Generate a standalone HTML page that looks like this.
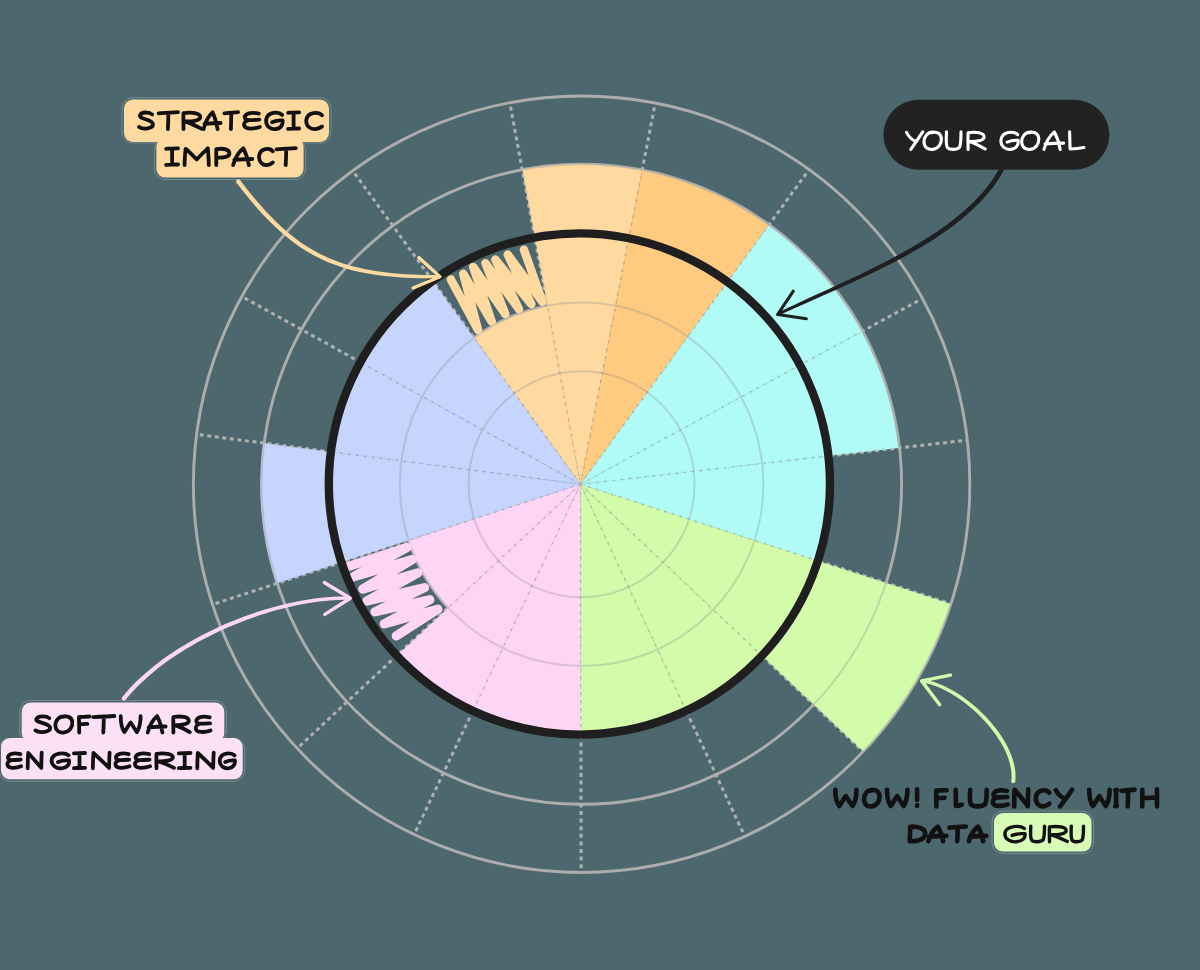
<!DOCTYPE html>
<html><head><meta charset="utf-8"><style>
html,body{margin:0;padding:0;background:#4c686e;}
svg{display:block;}
</style></head><body>
<svg width="1200" height="970" viewBox="0 0 1200 970">
<rect width="1200" height="970" fill="#4c686e"/>
<circle cx="581.6" cy="484.25" r="113" fill="none" stroke="#adadad" stroke-width="2.9"/>
<circle cx="581.6" cy="484.25" r="181.8" fill="none" stroke="#adadad" stroke-width="2.9"/>
<circle cx="581.6" cy="484.25" r="250.6" fill="none" stroke="#adadad" stroke-width="2.9"/>
<circle cx="581.6" cy="484.25" r="320" fill="none" stroke="#adadad" stroke-width="2.9"/>
<circle cx="581.6" cy="484.25" r="388.2" fill="none" stroke="#adadad" stroke-width="2.9"/>
<path d="M580.5 484.2L949.72 603.45 M580.5 484.2L862.41 750.79 M580.5 484.2L744.48 835.85 M580.5 484.2L581.18 872.2 M580.5 484.2L414.07 834.69 M580.5 484.2L296.73 748.82 M580.5 484.2L211.7 604.74 M580.5 484.2L195.73 434.23 M580.5 484.2L241.15 296.09 M580.5 484.2L352.44 170.3 M580.5 484.2L509.79 102.7 M580.5 484.2L655.2 103.46 M580.5 484.2L808.56 170.3 M580.5 484.2L921.48 299.06 M580.5 484.2L966.01 440.28" stroke="#b0b0b0" stroke-width="3" stroke-dasharray="4 3.6" fill="none"/>
<path d="M580.5 484.2L474.11 337.77A181 181 0 0 1 547.52 306.23Z" fill="#fed9a0"/>
<path d="M580.5 484.2L522.18 169.56A320 320 0 0 1 642.11 170.19Z" fill="#fed9a0"/>
<path d="M580.5 484.2L642.11 170.19A320 320 0 0 1 768.59 225.31Z" fill="#fecb80"/>
<path d="M580.5 484.2L768.59 225.31A320 320 0 0 1 861.72 331.51Z" fill="#b1fbf6"/>
<path d="M580.5 484.2L861.72 331.51A320 320 0 0 1 898.44 447.97Z" fill="#b1fbf6"/>
<path d="M580.5 484.2L828.89 455.9A250 250 0 0 1 818.4 561.04Z" fill="#b1fbf6"/>
<path d="M580.5 484.2L950.67 603.76A389 389 0 0 1 863.14 751.48Z" fill="#d2fcaa"/>
<path d="M580.5 484.2L762.14 655.97A250 250 0 0 1 686.15 710.78Z" fill="#d2fcaa"/>
<path d="M580.5 484.2L686.15 710.78A250 250 0 0 1 580.94 734.2Z" fill="#d2fcaa"/>
<path d="M580.5 484.2L580.94 734.2A250 250 0 0 1 473.27 710.03Z" fill="#ffd5f5"/>
<path d="M580.5 484.2L473.27 710.03A250 250 0 0 1 397.66 654.7Z" fill="#ffd5f5"/>
<path d="M580.5 484.2L448.12 607.64A181 181 0 0 1 408.46 540.43Z" fill="#ffd5f5"/>
<path d="M580.5 484.2L276.33 583.62A320 320 0 0 1 263.17 442.99Z" fill="#c5d5fd"/>
<path d="M580.5 484.2L332.58 452A250 250 0 0 1 361.85 363Z" fill="#c5d5fd"/>
<path d="M580.5 484.2L361.85 363A250 250 0 0 1 433.55 281.95Z" fill="#c5d5fd"/>
<clipPath id="cs"><path d="M580.5 484.2L474.11 337.77A181 181 0 0 1 547.52 306.23Z"/><path d="M580.5 484.2L522.18 169.56A320 320 0 0 1 642.11 170.19Z"/><path d="M580.5 484.2L642.11 170.19A320 320 0 0 1 768.59 225.31Z"/><path d="M580.5 484.2L768.59 225.31A320 320 0 0 1 861.72 331.51Z"/><path d="M580.5 484.2L861.72 331.51A320 320 0 0 1 898.44 447.97Z"/><path d="M580.5 484.2L828.89 455.9A250 250 0 0 1 818.4 561.04Z"/><path d="M580.5 484.2L950.67 603.76A389 389 0 0 1 863.14 751.48Z"/><path d="M580.5 484.2L762.14 655.97A250 250 0 0 1 686.15 710.78Z"/><path d="M580.5 484.2L686.15 710.78A250 250 0 0 1 580.94 734.2Z"/><path d="M580.5 484.2L580.94 734.2A250 250 0 0 1 473.27 710.03Z"/><path d="M580.5 484.2L473.27 710.03A250 250 0 0 1 397.66 654.7Z"/><path d="M580.5 484.2L448.12 607.64A181 181 0 0 1 408.46 540.43Z"/><path d="M580.5 484.2L276.33 583.62A320 320 0 0 1 263.17 442.99Z"/><path d="M580.5 484.2L332.58 452A250 250 0 0 1 361.85 363Z"/><path d="M580.5 484.2L361.85 363A250 250 0 0 1 433.55 281.95Z"/></clipPath>
<g clip-path="url(#cs)">
<circle cx="581.6" cy="484.25" r="113" fill="none" stroke="#8a8a8a" stroke-opacity="0.3" stroke-width="2"/>
<circle cx="581.6" cy="484.25" r="181.8" fill="none" stroke="#8a8a8a" stroke-opacity="0.3" stroke-width="2"/>
<circle cx="581.6" cy="484.25" r="250.6" fill="none" stroke="#8a8a8a" stroke-opacity="0.3" stroke-width="2"/>
<circle cx="581.6" cy="484.25" r="320" fill="none" stroke="#8a8a8a" stroke-opacity="0.3" stroke-width="2"/>
<circle cx="581.6" cy="484.25" r="388.2" fill="none" stroke="#8a8a8a" stroke-opacity="0.3" stroke-width="2"/>
<path d="M580.5 484.2L949.72 603.45 M580.5 484.2L862.41 750.79 M580.5 484.2L744.48 835.85 M580.5 484.2L581.18 872.2 M580.5 484.2L414.07 834.69 M580.5 484.2L296.73 748.82 M580.5 484.2L211.7 604.74 M580.5 484.2L195.73 434.23 M580.5 484.2L241.15 296.09 M580.5 484.2L352.44 170.3 M580.5 484.2L509.79 102.7 M580.5 484.2L655.2 103.46 M580.5 484.2L808.56 170.3 M580.5 484.2L921.48 299.06 M580.5 484.2L966.01 440.28" stroke="#7a7a7a" stroke-opacity="0.32" stroke-width="1.8" stroke-dasharray="2.6 5.4" fill="none"/>
</g>
<path d="M450.9 279.4L478.1 330.1L463.3 273.9L491.7 321.5L473.2 267L505.3 314L485.5 263.3L518.9 309.1L495.4 259.6L531.3 304.1L507.8 254.7L542.4 301.7L523.9 249.7" fill="none" stroke="#fed9a0" stroke-width="8.5" stroke-linecap="round" stroke-linejoin="round"/>
<path d="M349.4 566.2L407 547.4L353.4 576.9L412.4 559.5L362.8 589L417.8 572.9L366.8 601.1L424.5 587.7L374.9 611.8L429.8 599.7L384.2 623.9L437.9 609.1L396.3 635.9" fill="none" stroke="#ffd5f5" stroke-width="9.2" stroke-linecap="round" stroke-linejoin="round"/>
<circle cx="579.4" cy="484" r="250.6" fill="none" stroke="#1f1f1f" stroke-width="8.4"/>
<path d="M236.56 182.84L240.94 188.53L245.28 194.02L249.59 199.3L253.86 204.36L258.11 209.23L262.35 213.89L266.57 218.35L270.78 222.62L275 226.71L279.23 230.6L283.47 234.31L287.73 237.85L292.02 241.2L296.34 244.39L300.7 247.4L305.1 250.25L309.56 252.94L314.07 255.47L318.64 257.84L323.29 260.06L328.01 262.14L332.81 264.06L337.7 265.85L342.68 267.5L347.76 269.01L352.94 270.4L358.24 271.66L363.65 272.79L369.18 273.81L374.85 274.72L380.64 275.51L386.59 276.19L392.68 276.78L398.92 277.26L405.33 277.65L411.9 277.95L418.65 278.16L425.58 278.29L432.7 278.33L440 278.3L440 275.1L432.72 275.06L425.64 274.94L418.75 274.75L412.05 274.48L405.53 274.13L399.18 273.69L393 273.16L386.99 272.53L381.12 271.81L375.41 270.98L369.84 270.05L364.4 269.01L359.1 267.86L353.91 266.59L348.85 265.21L343.89 263.69L339.03 262.05L334.27 260.28L329.6 258.38L325.01 256.34L320.5 254.15L316.05 251.82L311.66 249.34L307.33 246.7L303.05 243.9L298.81 240.94L294.6 237.82L290.42 234.52L286.26 231.05L282.11 227.4L277.98 223.56L273.84 219.54L269.7 215.33L265.55 210.92L261.38 206.32L257.19 201.51L252.97 196.49L248.71 191.27L244.4 185.83L240.04 180.16Z" fill="#fed9a0"/><circle cx="238.3" cy="181.5" r="2.2" fill="#fed9a0"/>
<path d="M418.8 257.5L440 276.7L413.1 288" fill="none" stroke="#fed9a0" stroke-width="3.3" stroke-linecap="round" stroke-linejoin="round"/>
<path d="M999.32 168.41L996.35 173.61L993.13 178.64L989.64 183.59L985.89 188.43L981.88 193.18L977.64 197.83L973.18 202.4L968.49 206.87L963.61 211.26L958.53 215.55L953.27 219.77L947.84 223.89L942.26 227.94L936.54 231.91L930.68 235.79L924.71 239.61L918.63 243.34L912.45 247.01L906.19 250.6L899.86 254.12L893.47 257.58L887.03 260.97L880.56 264.3L874.07 267.57L867.56 270.78L861.06 273.93L854.57 277.03L848.11 280.07L841.68 283.06L835.31 286L828.99 288.9L822.75 291.75L816.6 294.55L810.54 297.32L804.6 300.04L798.77 302.73L793.09 305.38L787.54 308L782.16 310.59L776.95 313.15L778.25 315.85L783.48 313.37L788.88 310.86L794.44 308.32L800.15 305.74L805.99 303.13L811.96 300.47L818.05 297.78L824.23 295.04L830.51 292.25L836.86 289.42L843.27 286.54L849.74 283.6L856.25 280.61L862.79 277.56L869.34 274.45L875.9 271.29L882.45 268.05L888.98 264.76L895.48 261.39L901.94 257.95L908.34 254.44L914.68 250.86L920.94 247.19L927.1 243.45L933.16 239.63L939.11 235.72L944.93 231.72L950.61 227.63L956.14 223.46L961.51 219.19L966.7 214.82L971.71 210.35L976.51 205.78L981.1 201.11L985.47 196.33L989.61 191.44L993.49 186.44L997.11 181.32L1000.46 176.09L1003.48 170.79Z" fill="#1f1f1f"/><circle cx="1001.4" cy="169.6" r="2.4" fill="#1f1f1f"/>
<path d="M793.3 291.2L777.6 314.5L806.3 318.8" fill="none" stroke="#1f1f1f" stroke-width="3.1" stroke-linecap="round" stroke-linejoin="round"/>
<path d="M125.56 699.87L129.15 695.53L132.93 691.28L136.91 687.09L141.09 682.95L145.45 678.88L149.99 674.88L154.7 670.94L159.57 667.08L164.59 663.3L169.76 659.59L175.06 655.97L180.49 652.43L186.04 648.98L191.7 645.63L197.46 642.36L203.32 639.19L209.26 636.13L215.28 633.16L221.37 630.31L227.52 627.56L233.72 624.92L239.96 622.4L246.24 619.99L252.55 617.71L258.88 615.55L265.21 613.51L271.55 611.6L277.88 609.83L284.19 608.19L290.48 606.69L296.74 605.32L302.96 604.11L309.14 603.03L315.25 602.11L321.3 601.34L327.27 600.72L333.16 600.26L338.96 599.96L344.67 599.82L350.29 599.85L350.31 596.55L344.65 596.48L338.85 596.57L332.95 596.83L326.97 597.26L320.91 597.84L314.77 598.58L308.57 599.48L302.31 600.52L296.01 601.72L289.67 603.06L283.29 604.54L276.9 606.16L270.49 607.92L264.07 609.82L257.66 611.84L251.25 613.99L244.87 616.27L238.51 618.68L232.19 621.2L225.91 623.84L219.68 626.6L213.51 629.47L207.41 632.44L201.39 635.53L195.45 638.71L189.61 642L183.86 645.39L178.23 648.87L172.72 652.45L167.33 656.11L162.07 659.87L156.96 663.71L152 667.63L147.2 671.63L142.57 675.7L138.11 679.86L133.84 684.08L129.76 688.37L125.89 692.73L122.24 697.13Z" fill="#ffd5f5"/><circle cx="123.9" cy="698.5" r="2.15" fill="#ffd5f5"/>
<path d="M324.3 582.5L350.3 598.2L324.8 614.4" fill="none" stroke="#ffd5f5" stroke-width="3.4" stroke-linecap="round" stroke-linejoin="round"/>
<path d="M1015.24 781.35L1015.48 778.16L1015.49 774.86L1015.27 771.53L1014.83 768.18L1014.18 764.81L1013.32 761.42L1012.27 758.03L1011.04 754.64L1009.64 751.25L1008.06 747.87L1006.33 744.51L1004.44 741.17L1002.42 737.85L1000.25 734.57L997.96 731.32L995.56 728.12L993.03 724.96L990.41 721.86L987.69 718.82L984.88 715.84L981.99 712.94L979.02 710.11L975.99 707.37L972.91 704.72L969.77 702.16L966.59 699.7L963.37 697.36L960.13 695.12L956.87 693L953.59 691.01L950.31 689.15L947.04 687.42L943.77 685.84L940.52 684.41L937.29 683.13L934.1 682.02L930.94 681.07L927.83 680.3L924.77 679.71L921.82 679.32L921.38 682.48L924.23 682.89L927.11 683.48L930.06 684.24L933.06 685.17L936.11 686.26L939.2 687.51L942.33 688.92L945.48 690.48L948.64 692.17L951.82 694.01L954.99 695.97L958.15 698.05L961.3 700.26L964.42 702.57L967.51 704.99L970.56 707.5L973.56 710.11L976.51 712.81L979.39 715.58L982.2 718.43L984.93 721.35L987.57 724.32L990.11 727.36L992.55 730.44L994.88 733.56L997.09 736.72L999.18 739.9L1001.13 743.11L1002.93 746.34L1004.59 749.57L1006.09 752.81L1007.43 756.04L1008.59 759.27L1009.58 762.47L1010.38 765.65L1010.98 768.8L1011.39 771.92L1011.6 774.99L1011.59 778.01L1011.36 781.05Z" fill="#d2fcaa"/><circle cx="1013.3" cy="781.2" r="1.95" fill="#d2fcaa"/>
<path d="M950.5 675.2L921.6 680.9L939.7 704.7" fill="none" stroke="#d2fcaa" stroke-width="3.4" stroke-linecap="round" stroke-linejoin="round"/>
<rect x="122" y="97.6" width="209" height="45.4" rx="11" fill="none" stroke="#ece4d4" stroke-opacity="0.35" stroke-width="0.8"/>
<rect x="154.4" y="139" width="151.2" height="40.6" rx="11" fill="none" stroke="#ece4d4" stroke-opacity="0.35" stroke-width="0.8"/>
<rect x="124" y="99.6" width="205" height="42.4" rx="9" fill="#fed9a0"/>
<rect x="156.4" y="138" width="147.2" height="39.6" rx="9" fill="#fed9a0"/>
<path d="M152.2 114.5C149.5 111.9 141.3 111.5 140.0 115.3C138.6 119.2 152.2 119.2 152.9 123.9C153.6 128.7 143.1 130.0 139.1 126.9M158.6 113.4C165.4 112.9 172.2 112.4 178.1 112.2M168.3 112.8C168.3 117.9 168.2 123.9 167.9 129.1M183.5 129.1C183.5 123.9 183.2 117.9 183.5 113.2C191.7 111.9 200.3 113.2 200.3 117.1C200.3 120.9 190.6 121.8 184.6 121.4C190.6 123.1 197.1 126.5 201.4 128.7M203.6 129.1C205.0 123.1 207.8 116.6 212.6 112.3C214.9 117.1 216.6 123.1 217.6 129.1M204.5 123.8C209.7 123.3 214.9 123.0 220.6 123.0M224.4 113.4C229.2 112.9 234.0 112.4 238.1 112.2M231.2 112.8C231.2 117.9 231.1 123.9 230.9 129.1M258.8 113.6C253.1 112.2 246.4 112.6 244.9 116.2C244.0 118.8 246.4 120.1 249.3 120.1C253.1 120.1 256.0 119.9 259.3 119.6M249.3 120.1C245.4 120.5 243.5 123.1 244.3 125.7C244.9 129.1 253.1 129.5 259.8 126.9M282.1 114.9C278.8 111.5 267.3 111.5 266.2 119.6C265.4 126.5 271.1 129.5 275.4 129.1C280.7 128.7 283.1 124.8 282.6 120.5C278.8 120.1 275.0 120.9 272.1 122.2M288.1 112.8C291.5 112.6 295.8 112.3 299.2 112.3M293.6 112.8L293.6 128.7M288.1 128.9C291.5 128.8 295.8 128.6 299.2 128.5M322.0 115.3C318.8 111.5 307.4 111.5 306.3 120.1C305.6 126.5 311.1 129.5 315.2 129.1C318.4 128.7 320.6 127.8 322.0 126.5" fill="none" stroke="#111" stroke-width="3.8" stroke-linecap="round" stroke-linejoin="round"/>
<path d="M166.1 148.8C169.8 148.6 174.4 148.3 178.1 148.3M172.1 148.8L172.1 164.7M166.1 164.9C169.8 164.8 174.4 164.6 178.1 164.5M184.6 165.1C184.6 159.9 185.1 153.9 185.6 148.8C189.6 152.2 193.7 156.5 196.7 159.5C199.7 156.1 203.8 152.2 207.8 148.3C208.3 153.9 208.8 159.9 208.8 165.1M216.3 165.1C216.3 159.9 216.1 153.9 216.3 149.2C224.0 147.9 229.4 149.6 229.4 153.5C229.4 157.4 221.3 158.2 216.8 157.4M233.2 165.1C234.8 159.1 238.0 152.6 243.3 148.3C245.9 153.1 247.8 159.1 248.9 165.1M234.3 159.8C240.1 159.3 245.9 159.0 252.3 159.0M272.8 151.3C270.0 147.5 260.1 147.5 259.1 156.1C258.5 162.5 263.3 165.5 266.8 165.1C269.6 164.7 271.6 163.8 272.8 162.5M276.6 149.4C283.3 148.9 290.0 148.4 295.8 148.2M286.2 148.8C286.2 153.9 286.0 159.9 285.7 165.1" fill="none" stroke="#111" stroke-width="3.8" stroke-linecap="round" stroke-linejoin="round"/>
<rect x="883.4" y="99.8" width="226" height="69.9" rx="35" fill="#222222"/>
<path d="M906.5 132.4C908.4 136.0 910.8 139.6 915.5 141.3M922.7 131.9C918.9 137.8 914.6 144.1 910.8 149.4M934.1 132.2C927.4 131.5 923.8 136.9 924.0 142.2C924.3 147.6 928.3 149.9 932.6 149.4C938.4 149.0 941.8 143.6 941.3 138.2C940.8 133.7 937.0 131.0 931.2 132.8M946.5 131.9C946.2 137.8 945.8 144.1 947.2 147.2C949.1 150.3 957.2 149.9 959.5 147.2C961.0 144.1 961.0 137.8 961.0 131.9M968.1 149.4C968.1 144.1 967.8 137.8 968.1 132.8C975.9 131.5 984.1 132.8 984.1 136.9C984.1 140.9 974.8 141.8 969.1 141.3C974.8 143.2 981.0 146.8 985.2 149.0M1017.7 134.6C1014.2 131.0 1002.2 131.0 1001.0 139.6C1000.2 146.8 1006.2 149.9 1010.7 149.4C1016.2 149.0 1018.6 144.9 1018.2 140.4C1014.2 140.0 1010.2 140.9 1007.2 142.2M1031.6 132.2C1025.0 131.5 1021.5 136.9 1021.7 142.2C1022.0 147.6 1026.0 149.9 1030.2 149.4C1035.9 149.0 1039.2 143.6 1038.7 138.2C1038.2 133.7 1034.4 131.0 1028.8 132.8M1044.0 149.4C1045.7 143.2 1049.0 136.4 1054.4 131.9C1057.1 136.9 1059.1 143.2 1060.2 149.4M1045.1 143.9C1051.1 143.3 1057.1 143.1 1063.7 143.1M1069.6 131.9C1069.8 137.8 1069.9 144.1 1070.1 149.0C1074.7 149.0 1079.8 148.5 1083.9 147.6" fill="none" stroke="#ffffff" stroke-width="3.1" stroke-linecap="round" stroke-linejoin="round"/>
<rect x="19.7" y="700.6" width="206.6" height="41.7" rx="11" fill="none" stroke="#ece4d4" stroke-opacity="0.35" stroke-width="0.8"/>
<rect x="-1" y="738.3" width="245.7" height="43" rx="11" fill="none" stroke="#ece4d4" stroke-opacity="0.35" stroke-width="0.8"/>
<rect x="21.7" y="702.6" width="202.6" height="39.4" rx="9" fill="#fce1f6"/>
<rect x="1" y="738" width="241.7" height="41.3" rx="9" fill="#fce1f6"/>
<path d="M49.3 718.2C46.5 715.7 37.8 715.3 36.3 719.1C34.9 722.8 49.3 722.8 50.1 727.5C50.8 732.1 39.7 733.3 35.4 730.4M65.3 716.4C58.7 715.7 55.2 720.7 55.4 725.8C55.7 730.8 59.6 732.9 63.8 732.5C69.5 732.1 72.8 727.0 72.3 722.0C71.9 717.8 68.1 715.3 62.4 717.0M89.4 716.5C85.9 716.5 81.7 717.0 79.0 717.0C79.0 722.4 79.2 727.5 79.2 732.5M79.2 724.5C82.4 724.4 85.2 724.1 87.3 723.9M93.2 717.2C100.6 716.7 108.0 716.2 114.4 716.0M103.8 716.5C103.8 721.6 103.6 727.5 103.3 732.5M120.7 716.1C120.7 722.4 121.5 728.3 124.4 732.1C126.5 729.1 128.6 724.9 130.7 722.4C132.7 725.8 134.8 729.1 136.9 732.1C139.4 728.3 140.6 722.4 140.6 716.1M147.7 732.5C149.2 726.6 152.2 720.3 157.1 716.1C159.6 720.7 161.4 726.6 162.4 732.5M148.7 727.3C154.2 726.8 159.6 726.5 165.6 726.5M173.4 732.5C173.4 727.5 173.1 721.6 173.4 717.0C180.8 715.7 188.8 717.0 188.8 720.7C188.8 724.5 179.9 725.4 174.4 724.9C179.9 726.6 185.8 730.0 189.8 732.1M209.7 717.4C204.3 716.0 197.9 716.4 196.6 719.9C195.7 722.4 197.9 723.7 200.6 723.7C204.3 723.7 207.0 723.5 210.1 723.3M200.6 723.7C197.0 724.1 195.2 726.6 195.9 729.1C196.6 732.5 204.3 732.9 210.6 730.4" fill="none" stroke="#111" stroke-width="3.8" stroke-linecap="round" stroke-linejoin="round"/>
<path d="M20.3 754.2C15.3 752.8 9.4 753.2 8.2 756.5C7.3 758.9 9.4 760.1 11.9 760.1C15.3 760.1 17.8 759.9 20.7 759.7M11.9 760.1C8.6 760.5 6.9 762.8 7.6 765.2C8.2 768.3 15.3 768.7 21.1 766.3M27.7 768.3C27.7 762.8 27.9 758.1 28.2 753.0C32.8 758.1 37.0 762.8 41.3 767.9C41.3 762.8 41.4 758.1 41.7 752.6M68.6 755.3C65.1 752.2 52.9 752.2 51.7 759.7C50.9 765.9 57.0 768.7 61.5 768.3C67.1 767.9 69.6 764.4 69.1 760.5C65.1 760.1 61.0 760.8 58.0 762.0M73.9 753.4C77.3 753.2 81.7 753.0 85.1 753.0M79.5 753.4L79.5 767.9M73.9 768.1C77.3 768.0 81.7 767.8 85.1 767.8M92.9 768.3C92.9 762.8 93.1 758.1 93.4 753.0C99.0 758.1 104.0 762.8 109.1 767.9C109.1 762.8 109.3 758.1 109.6 752.6M128.6 754.2C123.5 752.8 117.5 753.2 116.2 756.5C115.3 758.9 117.5 760.1 120.1 760.1C123.5 760.1 126.1 759.9 129.1 759.7M120.1 760.1C116.6 760.5 114.9 762.8 115.6 765.2C116.2 768.3 123.5 768.7 129.5 766.3M149.2 754.2C143.6 752.8 137.2 753.2 135.8 756.5C134.9 758.9 137.2 760.1 139.9 760.1C143.6 760.1 146.4 759.9 149.6 759.7M139.9 760.1C136.2 760.5 134.4 762.8 135.1 765.2C135.8 768.3 143.6 768.7 150.1 766.3M156.5 768.3C156.5 763.6 156.2 758.1 156.5 753.8C164.4 752.6 172.9 753.8 172.9 757.3C172.9 760.8 163.4 761.6 157.6 761.2C163.4 762.8 169.8 765.9 174.0 767.9M178.8 753.4C182.4 753.2 186.9 753.0 190.5 753.0M184.7 753.4L184.7 767.9M178.8 768.1C182.4 768.0 186.9 767.8 190.5 767.8M197.3 768.3C197.3 762.8 197.5 758.1 197.8 753.0C203.3 758.1 208.2 762.8 213.2 767.9C213.2 762.8 213.4 758.1 213.7 752.6M234.5 755.3C231.4 752.2 220.9 752.2 219.8 759.7C219.1 765.9 224.4 768.7 228.3 768.3C233.1 767.9 235.3 764.4 234.9 760.5C231.4 760.1 227.9 760.8 225.2 762.0" fill="none" stroke="#111" stroke-width="3.8" stroke-linecap="round" stroke-linejoin="round"/>
<path d="M835.3 789.7C835.3 796.1 836.2 802.1 839.3 806.0C841.5 803.0 843.7 798.7 845.9 796.1C848.1 799.6 850.3 803.0 852.5 806.0C855.2 802.1 856.5 796.1 856.5 789.7M873.0 790.0C867.0 789.3 863.9 794.4 864.0 799.6C864.3 804.7 867.9 806.8 871.8 806.4C876.9 806.0 879.9 800.8 879.5 795.7C879.0 791.4 875.6 788.9 870.5 790.6M887.0 789.7C887.0 796.1 887.9 802.1 890.8 806.0C893.0 803.0 895.1 798.7 897.2 796.1C899.3 799.6 901.5 803.0 903.6 806.0C906.1 802.1 907.4 796.1 907.4 789.7M917.1 789.3L917.1 800.0M917.1 805.1L917.1 806.0M946.7 790.2C943.1 790.2 938.9 790.6 936.2 790.6C936.2 796.1 936.4 801.3 936.4 806.4M936.4 798.3C939.6 798.1 942.4 797.9 944.6 797.7M955.7 789.7C955.8 795.3 955.9 801.3 955.9 806.0C957.9 806.0 960.0 805.5 961.7 804.7M970.2 789.7C969.8 795.3 969.3 801.3 970.9 804.3C973.1 807.3 982.4 806.8 985.1 804.3C986.7 801.3 986.7 795.3 986.7 789.7M1006.8 791.0C1001.4 789.6 995.0 790.0 993.7 793.6C992.8 796.1 995.0 797.4 997.7 797.4C1001.4 797.4 1004.1 797.3 1007.2 797.0M997.7 797.4C994.1 797.9 992.3 800.4 993.0 803.0C993.7 806.4 1001.4 806.8 1007.7 804.3M1014.2 806.4C1014.2 800.4 1014.3 795.3 1014.6 789.7C1019.3 795.3 1023.6 800.4 1027.8 806.0C1027.8 800.4 1028.0 795.3 1028.3 789.3M1049.2 792.7C1046.5 788.9 1036.8 788.9 1035.9 797.4C1035.3 803.8 1039.9 806.8 1043.4 806.4C1046.1 806.0 1048.0 805.1 1049.2 803.8M1055.8 790.2C1057.7 793.6 1060.1 797.0 1064.9 798.7M1072.1 789.7C1068.3 795.3 1064.0 801.3 1060.1 806.4M1089.2 789.7C1089.2 796.1 1090.0 802.1 1093.0 806.0C1095.2 803.0 1097.3 798.7 1099.4 796.1C1101.5 799.6 1103.7 803.0 1105.8 806.0C1108.3 802.1 1109.6 796.1 1109.6 789.7M1115.3 790.2C1115.8 790.0 1116.4 789.7 1116.9 789.7M1116.1 790.2L1116.1 806.0M1115.3 806.2C1115.8 806.1 1116.4 805.9 1116.9 805.8M1121.5 790.8C1126.1 790.3 1130.7 789.8 1134.6 789.6M1128.1 790.2C1128.1 795.3 1127.9 801.3 1127.7 806.4M1142.3 789.7L1142.3 806.4M1157.0 789.3L1157.0 806.4M1142.3 798.0C1147.4 797.9 1151.4 797.7 1157.0 797.5" fill="none" stroke="#111" stroke-width="4.6" stroke-linecap="round" stroke-linejoin="round"/>
<rect x="992" y="811" width="101.5" height="42.6" rx="11" fill="none" stroke="#ece4d4" stroke-opacity="0.35" stroke-width="0.8"/>
<rect x="994" y="813" width="97.5" height="38.6" rx="9" fill="#d8fcb6"/>
<path d="M910.2 826.7C910.2 831.5 909.9 836.7 909.7 841.2C918.0 841.6 925.3 839.0 925.3 833.8C925.3 828.5 918.9 826.3 910.2 826.7M928.3 841.2C929.8 836.0 932.8 830.4 937.9 826.7C940.4 830.8 942.2 836.0 943.2 841.2M929.3 836.6C934.8 836.1 940.4 835.9 946.4 835.9M949.4 827.6C955.2 827.2 961.0 826.7 965.9 826.5M957.7 827.0C957.7 831.5 957.5 836.7 957.2 841.2M968.9 841.2C970.4 836.0 973.2 830.4 978.1 826.7C980.5 830.8 982.2 836.0 983.2 841.2M969.9 836.6C975.2 836.1 980.5 835.9 986.3 835.9" fill="none" stroke="#111" stroke-width="4.6" stroke-linecap="round" stroke-linejoin="round"/>
<path d="M1024.4 828.5C1020.4 825.3 1006.4 825.3 1005.0 832.9C1004.1 839.4 1011.1 842.2 1016.3 841.8C1022.7 841.4 1025.6 837.8 1025.0 833.8C1020.4 833.3 1015.7 834.2 1012.2 835.4M1030.8 826.1C1030.6 831.3 1030.1 837.0 1031.5 839.8C1033.2 842.6 1040.9 842.2 1043.2 839.8C1044.5 837.0 1044.5 831.3 1044.5 826.1M1049.5 841.8C1049.5 837.0 1049.2 831.3 1049.5 826.9C1057.6 825.7 1066.2 826.9 1066.2 830.5C1066.2 834.2 1056.5 835.0 1050.6 834.6C1056.5 836.2 1063.0 839.4 1067.3 841.4M1071.3 826.1C1071.1 831.3 1070.7 837.0 1071.9 839.8C1073.5 842.6 1080.3 842.2 1082.3 839.8C1083.5 837.0 1083.5 831.3 1083.5 826.1" fill="none" stroke="#111" stroke-width="3.4" stroke-linecap="round" stroke-linejoin="round"/>
</svg>
</body></html>
